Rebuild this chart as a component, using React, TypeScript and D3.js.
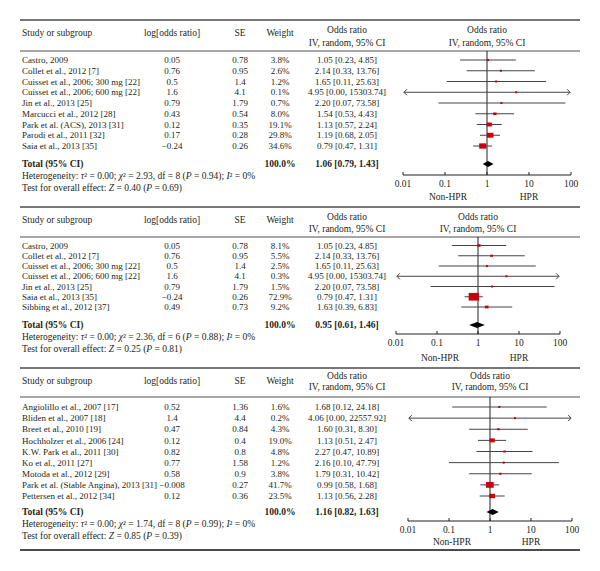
import React from "react";
import * as d3 from "d3";

// ---- data: panel 1 ----
const studies1 = [
  "Castro, 2009",
  "Collet et al., 2012 [7]",
  "Cuisset et al., 2006; 300 mg [22]",
  "Cuisset et al., 2006; 600 mg [22]",
  "Jin et al., 2013 [25]",
  "Marcucci et al., 2012 [28]",
  "Park et al. (ACS), 2013 [31]",
  "Parodi et al., 2011 [32]",
  "Saia et al., 2013 [35]",
];
const logOr1 = [0.05, 0.76, 0.5, 1.6, 0.79, 0.43, 0.12, 0.17, -0.24];
const se1 = [0.78, 0.95, 1.4, 4.1, 1.79, 0.54, 0.35, 0.28, 0.26];
const weight1 = [3.8, 2.6, 1.2, 0.1, 0.7, 8.0, 19.1, 29.8, 34.6];
const or1 = [1.05, 2.14, 1.65, 4.95, 2.2, 1.54, 1.13, 1.19, 0.79];
const lo1 = [0.23, 0.33, 0.11, 0.0, 0.07, 0.53, 0.57, 0.68, 0.47];
const hi1 = [4.85, 13.76, 25.63, 15303.74, 73.58, 4.43, 2.24, 2.05, 1.31];
const total1 = [1.06, 0.79, 1.43];
const het1 = { tau2: "0.00", chi2: "2.93", df: 8, p: "0.94", i2: "0%", z: "0.40", pz: "0.69" };

// ---- data: panel 2 ----
const studies2 = [
  "Castro, 2009",
  "Collet et al., 2012 [7]",
  "Cuisset et al., 2006; 300 mg [22]",
  "Cuisset et al., 2006; 600 mg [22]",
  "Jin et al., 2013 [25]",
  "Saia et al., 2013 [35]",
  "Sibbing et al., 2012 [37]",
];
const logOr2 = [0.05, 0.76, 0.5, 1.6, 0.79, -0.24, 0.49];
const se2 = [0.78, 0.95, 1.4, 4.1, 1.79, 0.26, 0.73];
const weight2 = [8.1, 5.5, 2.5, 0.3, 1.5, 72.9, 9.2];
const or2 = [1.05, 2.14, 1.65, 4.95, 2.2, 0.79, 1.63];
const lo2 = [0.23, 0.33, 0.11, 0.0, 0.07, 0.47, 0.39];
const hi2 = [4.85, 13.76, 25.63, 15303.74, 73.58, 1.31, 6.83];
const total2 = [0.95, 0.61, 1.46];
const het2 = { tau2: "0.00", chi2: "2.36", df: 6, p: "0.88", i2: "0%", z: "0.25", pz: "0.81" };

// ---- data: panel 3 ----
const studies3 = [
  "Angiolillo et al., 2007 [17]",
  "Bliden et al., 2007 [18]",
  "Breet et al., 2010 [19]",
  "Hochholzer et al., 2006 [24]",
  "K.W. Park et al., 2011 [30]",
  "Ko et al., 2011 [27]",
  "Motoda et al., 2012 [29]",
  "Park et al. (Stable Angina), 2013 [31]",
  "Pettersen et al., 2012 [34]",
];
const logOr3 = [0.52, 1.4, 0.47, 0.12, 0.82, 0.77, 0.58, -0.008, 0.12];
const se3 = [1.36, 4.4, 0.84, 0.4, 0.8, 1.58, 0.9, 0.27, 0.36];
const weight3 = [1.6, 0.2, 4.3, 19.0, 4.8, 1.2, 3.8, 41.7, 23.5];
const or3 = [1.68, 4.06, 1.6, 1.13, 2.27, 2.16, 1.79, 0.99, 1.13];
const lo3 = [0.12, 0.0, 0.31, 0.51, 0.47, 0.1, 0.31, 0.58, 0.56];
const hi3 = [24.18, 22557.92, 8.3, 2.47, 10.89, 47.79, 10.42, 1.68, 2.28];
const total3 = [1.16, 0.82, 1.63];
const het3 = { tau2: "0.00", chi2: "1.74", df: 8, p: "0.99", i2: "0%", z: "0.85", pz: "0.39" };

const ticks = [0.01, 0.1, 1, 10, 100];

// layout of each panel (pixel positions)
const layouts = [
  { top: 20, headY: 51, studyHeadY: 33, orHead1: 30, orHead2: 42.5, row0: 60, rowN: 146, totalY: 164, hetY: 176, testY: 188, axisY: 175, fx0: 403, fx1: 571, labelY: 197 },
  { top: 207, headY: 237, studyHeadY: 220, orHead1: 217, orHead2: 228.5, row0: 245.5, rowN: 307, totalY: 325, hetY: 337, testY: 349, axisY: 334, fx0: 396, fx1: 560, labelY: 358 },
  { top: 368, headY: 397, studyHeadY: 381, orHead1: 376, orHead2: 387, row0: 407, rowN: 496, totalY: 512, hetY: 524, testY: 536, axisY: 521, fx0: 408, fx1: 572, labelY: 542 },
];
const bottomY = 550;

const panels = [
  { studies: studies1, logOr: logOr1, se: se1, weight: weight1, or: or1, lo: lo1, hi: hi1, total: total1, het: het1 },
  { studies: studies2, logOr: logOr2, se: se2, weight: weight2, or: or2, lo: lo2, hi: hi2, total: total2, het: het2 },
  { studies: studies3, logOr: logOr3, se: se3, weight: weight3, or: or3, lo: lo3, hi: hi3, total: total3, het: het3 },
];

const FONT = "'Liberation Serif', 'Times New Roman', serif";
const FS = 9.5; // headers, footers, axis
const FS_ROW = 9; // study rows
const INK = "#231f20";
const RED = "#c8000a";

const colX = { study: 22, log: 172, se: 240, weight: 280, or: 347 };

const fmtNum = (v: number) => String(v).replace("-", "\u2212");
const fmtCi = (a: number, b: number, c: number) => `${a.toFixed(2)} [${b.toFixed(2)}, ${c.toFixed(2)}]`;

function Panel({ p, L }: { p: (typeof panels)[number]; L: (typeof layouts)[number] }) {
  const x = d3.scaleLog().domain([0.01, 100]).range([L.fx0, L.fx1]).clamp(true);
  const y = d3.scaleLinear().domain([0, p.studies.length - 1]).range([L.row0, L.rowN]);
  const x1 = x(1);
  const txt = { fontFamily: FONT, fontSize: FS, fill: INK } as const;
  const rowTxt = { ...txt, fontSize: FS_ROW };
  const diamond = d3.line()([
    [x(p.total[1]), L.totalY],
    [x(p.total[0]), L.totalY - 3],
    [x(p.total[2]), L.totalY],
    [x(p.total[0]), L.totalY + 3],
  ]) + "Z";

  return (
    <g>
      <line x1={20} x2={580} y1={L.top} y2={L.top} stroke="#4a4a4a" strokeWidth={1.5} />
      <line x1={20} x2={580} y1={L.headY} y2={L.headY} stroke="#8a8a8a" strokeWidth={1.5} />
      {/* headers */}
      <g {...txt}>
        <text x={colX.study} y={L.studyHeadY} dy="0.35em">Study or subgroup</text>
        <text x={colX.log} y={L.studyHeadY} dy="0.35em" textAnchor="middle">log[odds ratio]</text>
        <text x={colX.se} y={L.studyHeadY} dy="0.35em" textAnchor="middle">SE</text>
        <text x={colX.weight} y={L.studyHeadY} dy="0.35em" textAnchor="middle">Weight</text>
        <text x={colX.or} y={L.orHead1} dy="0.35em" textAnchor="middle">Odds ratio</text>
        <text x={colX.or} y={L.orHead2} dy="0.35em" textAnchor="middle">IV, random, 95% CI</text>
        <text x={x1} y={L.orHead1} dy="0.35em" textAnchor="middle">Odds ratio</text>
        <text x={x1} y={L.orHead2} dy="0.35em" textAnchor="middle">IV, random, 95% CI</text>
      </g>
      {/* rows */}
      {p.studies.map((s, i) => (
        <g key={s} {...rowTxt}>
          <text x={colX.study} y={y(i)} dy="0.35em">{s}</text>
          <text x={colX.log} y={y(i)} dy="0.35em" textAnchor="middle">{fmtNum(p.logOr[i])}</text>
          <text x={colX.se} y={y(i)} dy="0.35em" textAnchor="middle">{fmtNum(p.se[i])}</text>
          <text x={colX.weight} y={y(i)} dy="0.35em" textAnchor="middle">{p.weight[i].toFixed(1)}%</text>
          <text x={colX.or} y={y(i)} dy="0.35em" textAnchor="middle">{fmtCi(p.or[i], p.lo[i], p.hi[i])}</text>
        </g>
      ))}
      {/* total */}
      <g {...txt} fontWeight="bold">
        <text x={colX.study} y={L.totalY} dy="0.35em">Total (95% CI)</text>
        <text x={colX.weight} y={L.totalY} dy="0.35em" textAnchor="middle">100.0%</text>
        <text x={colX.or} y={L.totalY} dy="0.35em" textAnchor="middle">{fmtCi(p.total[0], p.total[1], p.total[2])}</text>
      </g>
      <g {...txt}>
        <text x={colX.study} y={L.hetY} dy="0.35em">
          Heterogeneity: <tspan fontStyle="italic">τ</tspan>² = {p.het.tau2}; <tspan fontStyle="italic">χ</tspan>² = {p.het.chi2}, df = {p.het.df} (<tspan fontStyle="italic">P</tspan> = {p.het.p}); <tspan fontStyle="italic">I</tspan>² = {p.het.i2}
        </text>
        <text x={colX.study} y={L.testY} dy="0.35em">
          Test for overall effect: <tspan fontStyle="italic">Z</tspan> = {p.het.z} (<tspan fontStyle="italic">P</tspan> = {p.het.pz})
        </text>
      </g>
      {/* forest */}
      <line x1={x1} x2={x1} y1={L.headY} y2={L.axisY} stroke={INK} strokeWidth={1} />
      {p.studies.map((s, i) => {
        const a = x(Math.max(p.lo[i], 0.0105));
        const b = x(Math.min(p.hi[i], 95));
        const arrowL = p.lo[i] < 0.01;
        const arrowR = p.hi[i] > 100;
        const cy = y(i);
        const sw = Math.max(2, 1.2 * Math.sqrt(p.weight[i]));
        const sh = Math.max(2, 0.9 * Math.sqrt(p.weight[i]));
        return (
          <g key={s}>
            <line x1={arrowL ? a : x(p.lo[i])} x2={arrowR ? b : x(p.hi[i])} y1={cy} y2={cy} stroke="#444" strokeWidth={1} />
            {arrowL && <path d={`M${a + 3},${cy - 3}L${a},${cy}L${a + 3},${cy + 3}`} fill="none" stroke="#444" />}
            {arrowR && <path d={`M${b - 3},${cy - 3}L${b},${cy}L${b - 3},${cy + 3}`} fill="none" stroke="#444" />}
            <rect x={x(p.or[i]) - sw / 2} y={cy - sh / 2} width={sw} height={sh} fill={RED} />
          </g>
        );
      })}
      <path d={diamond} fill="#000" />
      {/* axis */}
      <line x1={L.fx0} x2={L.fx1} y1={L.axisY} y2={L.axisY} stroke={INK} strokeWidth={1} />
      {ticks.map((t) => (
        <g key={t}>
          <line x1={x(t)} x2={x(t)} y1={L.axisY - 3} y2={L.axisY} stroke={INK} />
          <text {...txt} x={x(t)} y={L.axisY + 9} dy="0.35em" textAnchor="middle">{t}</text>
        </g>
      ))}
      <text {...txt} x={(x(0.01) + x(1)) / 2 + 3} y={L.labelY} dy="0.35em" textAnchor="middle">Non-HPR</text>
      <text {...txt} x={(x(1) + x(100)) / 2} y={L.labelY} dy="0.35em" textAnchor="middle">HPR</text>
    </g>
  );
}

export default function App() {
  return (
    <svg width={600} height={571} style={{ position: "absolute", left: 0, top: 0, background: "#fff" }}>
      {panels.map((p, i) => (
        <Panel key={i} p={p} L={layouts[i]} />
      ))}
      <line x1={20} x2={580} y1={bottomY} y2={bottomY} stroke="#111" strokeWidth={1.5} />
    </svg>
  );
}
